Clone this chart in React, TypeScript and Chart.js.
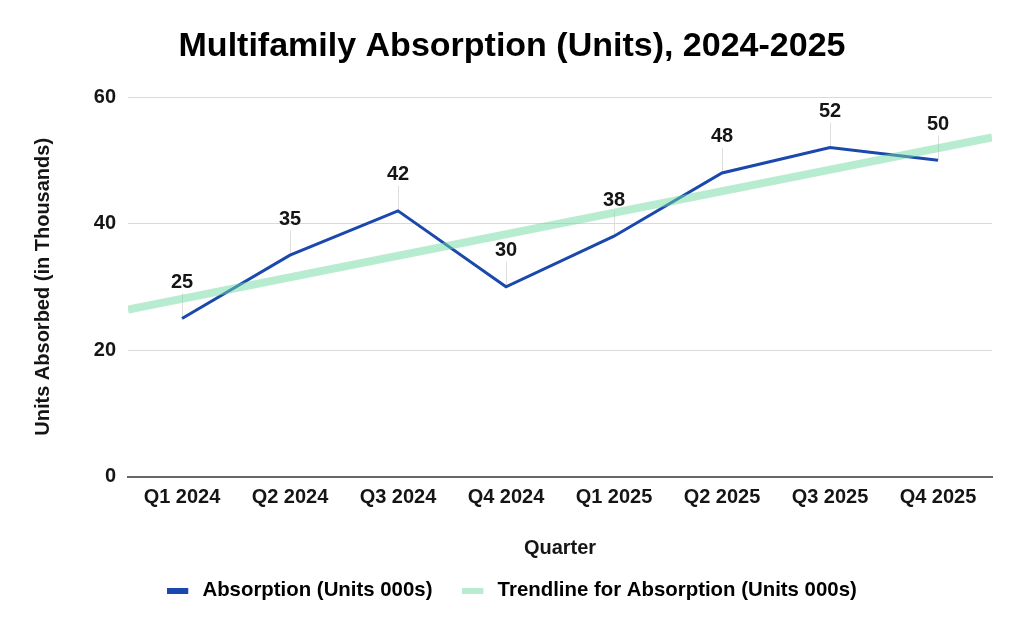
import React, { useEffect, useRef } from 'react';
import { Chart, registerables } from 'chart.js';

Chart.register(...registerables);

// ---- Data ----
const categories = ['Q1 2024', 'Q2 2024', 'Q3 2024', 'Q4 2024', 'Q1 2025', 'Q2 2025', 'Q3 2025', 'Q4 2025'];
const absorption = [25, 35, 42, 30, 38, 48, 52, 50];
// Trendline end points (category index, value)
const trendX = [-0.5, 7.5];
const trendY = [26.4, 53.6];
const yTicks = [0, 20, 40, 60];

const seriesNames = ['Absorption (Units 000s)', 'Trendline for Absorption (Units 000s)'];
const titleText = 'Multifamily Absorption (Units), 2024-2025';
const xTitle = 'Quarter';
const yTitle = 'Units Absorbed (in Thousands)';

const FONT = "'Liberation Sans', Arial, sans-serif";
const BLUE = '#1a48ad';
const GREEN_LINE = 'rgba(111, 217, 161, 0.5)';
const GREEN_SWATCH = '#b7ecd0';
const TEXT = '#151515';

function makeSwatch(color: string): HTMLCanvasElement {
  const c = document.createElement('canvas');
  c.width = 25;
  c.height = 6;
  const g = c.getContext('2d');
  if (g) {
    g.fillStyle = color;
    g.fillRect(0, 0, 21, 6);
  }
  return c;
}

const leaderPlugin = {
  id: 'leaderLines',
  beforeDatasetsDraw(chart: any) {
    const meta = chart.getDatasetMeta(0);
    const ctx = chart.ctx;
    ctx.save();
    ctx.strokeStyle = '#dedede';
    ctx.lineWidth = 1;
    meta.data.forEach((pt: any) => {
      const x = Math.round(pt.x) + 0.5;
      ctx.beginPath();
      ctx.moveTo(x, pt.y);
      ctx.lineTo(x, pt.y - 25);
      ctx.stroke();
    });
    ctx.restore();
  },
  afterDatasetsDraw(chart: any) {
    const meta = chart.getDatasetMeta(0);
    const ctx = chart.ctx;
    ctx.save();
    ctx.fillStyle = TEXT;
    ctx.font = `bold 20px ${FONT}`;
    ctx.textAlign = 'center';
    ctx.textBaseline = 'middle';
    meta.data.forEach((pt: any, i: number) => {
      ctx.fillText(String(absorption[i]), pt.x, pt.y - 36);
    });
    ctx.restore();
  },
};

export default function App() {
  const ref = useRef<HTMLCanvasElement | null>(null);

  useEffect(() => {
    document.body.style.margin = '0';
    const canvas = ref.current;
    if (!canvas) return;
    const swBlue = makeSwatch(BLUE);
    const swGreen = makeSwatch(GREEN_SWATCH);
    const font = { family: FONT, size: 20, weight: 'bold' as const };

    const chart = new Chart(canvas, {
      type: 'line',
      data: {
        labels: categories,
        datasets: [
          {
            label: seriesNames[0],
            data: absorption,
            borderColor: BLUE,
            backgroundColor: BLUE,
            borderWidth: 3,
            pointRadius: 0,
            tension: 0,
            order: 1,
            xAxisID: 'x',
          },
          {
            label: seriesNames[1],
            data: trendX.map((x, i) => ({ x, y: trendY[i] })) as any,
            borderColor: GREEN_LINE,
            backgroundColor: GREEN_SWATCH,
            borderWidth: 8,
            pointRadius: 0,
            tension: 0,
            order: 0,
            xAxisID: 'xTrend',
          },
        ],
      },
      options: {
        responsive: false,
        animation: false,
        events: [],
        layout: { padding: { left: 32, right: 32, top: 0, bottom: 22 } },
        plugins: {
          tooltip: { enabled: false },
          title: {
            display: true,
            text: titleText,
            color: '#000',
            font: { family: FONT, size: 34, weight: 'bold' },
            padding: { top: 26.6, bottom: 29.6 },
          },
          legend: {
            position: 'bottom',
            labels: {
              usePointStyle: true,
              pointStyleWidth: 25,
              padding: 30,
              color: TEXT,
              font: { family: FONT, size: 20.4, weight: 'bold' },
              generateLabels: () => [
                {
                  text: seriesNames[0],
                  fillStyle: BLUE,
                  strokeStyle: BLUE,
                  lineWidth: 0,
                  pointStyle: swBlue as any,
                  datasetIndex: 0,
                  hidden: false,
                },
                {
                  text: seriesNames[1],
                  fillStyle: GREEN_SWATCH,
                  strokeStyle: GREEN_SWATCH,
                  lineWidth: 0,
                  pointStyle: swGreen as any,
                  datasetIndex: 1,
                  hidden: false,
                },
              ],
            },
          },
        },
        scales: {
          x: {
            type: 'category',
            offset: true,
            grid: { display: false, drawTicks: false },
            border: { display: true, color: '#666', width: 2 },
            ticks: { font, color: TEXT, padding: 9, maxRotation: 0, autoSkip: false },
            title: { display: true, text: xTitle, color: TEXT, font, padding: { top: 0, bottom: -10 } },
            afterFit: (s: any) => {
              s.height = 74;
            },
          },
          xTrend: {
            type: 'linear',
            display: false,
            min: -0.5,
            max: 7.5,
          },
          y: {
            type: 'linear',
            min: 0,
            max: 60,
            grid: { color: '#d9d9d9', drawTicks: false },
            border: { display: false },
            ticks: { font, color: TEXT, padding: 12 },
            afterBuildTicks: (s: any) => {
              s.ticks = yTicks.map((v) => ({ value: v }));
            },
            title: { display: true, text: yTitle, color: TEXT, font, padding: { top: -0.5, bottom: 0 } },
            afterFit: (s: any) => {
              s.width = 96;
            },
          },
        },
      },
      plugins: [leaderPlugin],
    });

    return () => {
      chart.destroy();
    };
  }, []);

  return (
    <div style={{ width: 1024, height: 633 }}>
      <canvas ref={ref} width={1024} height={633} style={{ display: 'block', width: 1024, height: 633 }} />
    </div>
  );
}
